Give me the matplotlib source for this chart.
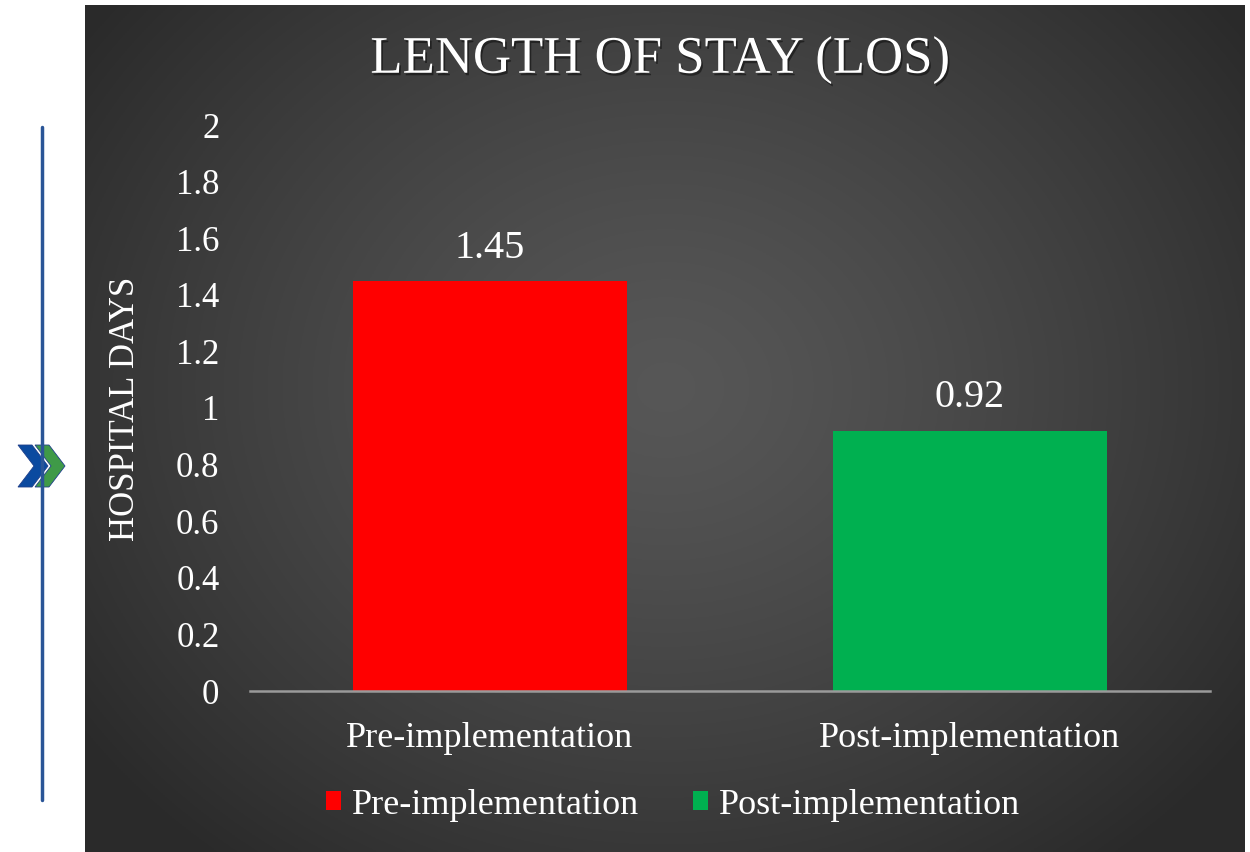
import numpy as np
import matplotlib
matplotlib.use("Agg")
import matplotlib.pyplot as plt
from matplotlib.patches import Polygon, Patch
import matplotlib.patheffects as pe

categories = ["Pre-implementation", "Post-implementation"]
values = [1.45, 0.92]
colors = ["#ff0000", "#00b050"]
yticks = [0, 0.2, 0.4, 0.6, 0.8, 1, 1.2, 1.4, 1.6, 1.8, 2]
ytick_labels = ["0", "0.2", "0.4", "0.6", "0.8", "1", "1.2", "1.4", "1.6", "1.8", "2"]
title = "LENGTH OF STAY (LOS)"
ylabel = "HOSPITAL DAYS"

W, H = 1250, 852
fig = plt.figure(figsize=(W / 100, H / 100), dpi=100)
fig.patch.set_facecolor("white")
serif = ["Liberation Serif", "DejaVu Serif"]

# background panel with radial gradient
bx0, bx1, by0, by1 = 85, 1245, 5, 852
bg = fig.add_axes([bx0 / W, 1 - by1 / H, (bx1 - bx0) / W, (by1 - by0) / H])
ny, nx = 400, 550
yy, xx = np.mgrid[0:ny, 0:nx]
cx, cy = nx * 0.5, ny * 0.45
r = np.sqrt(((xx - cx) / (nx * 0.62)) ** 2 + ((yy - cy) / (ny * 0.72)) ** 2)
r = np.clip(r, 0, 1)
val = 0.34 - (0.34 - 0.165) * r ** 1.3
img = np.dstack([val, val, val])
bg.imshow(img, aspect="auto", extent=[0, 1, 0, 1], origin="upper")
bg.set_axis_off()

# main axes
ax = fig.add_axes([250 / W, 1 - 691 / H, 960 / W, (691 - 125) / H])
ax.set_facecolor("none")
x = np.arange(len(categories))
ax.bar(x, values, width=0.57, color=colors, zorder=2)
ax.set_xlim(-0.5, len(categories) - 0.5)
ax.set_ylim(0, 2)
ax.set_yticks(yticks)
ax.set_yticklabels(ytick_labels)
ax.set_xticks(x)
ax.set_xticklabels(categories)
for s in ["top", "left", "right"]:
    ax.spines[s].set_visible(False)
ax.spines["bottom"].set_color("#9a9a9a")
ax.spines["bottom"].set_linewidth(1.8)
ax.tick_params(axis="both", length=0, colors="white")
ax.tick_params(axis="y", pad=22, labelsize=25)
ax.tick_params(axis="x", pad=22, labelsize=26)
for lab in ax.get_xticklabels() + ax.get_yticklabels():
    lab.set_fontfamily(serif)
    lab.set_color("white")

for xi, v in zip(x, values):
    ax.text(xi, v + 0.05, f"{v:.2f}", ha="center", va="bottom", color="white",
            fontsize=29, fontfamily=serif)

fig.text(125 / W, 1 - 409 / H, ylabel, rotation=90, ha="center", va="center",
         color="white", fontsize=25, fontfamily=serif)

fig.text(660 / W, 1 - 60 / H, title, ha="center", va="center", color="white",
         fontsize=38, fontfamily=serif,
         path_effects=[pe.withSimplePatchShadow(offset=(1.2, -1.8), shadow_rgbFace="black", alpha=0.45)])

handles = [Patch(facecolor=c, edgecolor="none") for c in colors]
fig.legend(handles, categories, loc="center", bbox_to_anchor=(673 / W, 1 - 805 / H),
           ncol=2, frameon=False, handlelength=0.42, handleheight=0.42, handletextpad=0.3,
           columnspacing=1.5, prop={"family": serif, "size": 26}, labelcolor="white")

# left decoration: vertical line and chevrons
fig.add_artist(plt.Line2D([42 / W, 42 / W], [1 - 127 / H, 1 - 800 / H], color="#2a5597",
                          lw=2.5, transform=fig.transFigure, solid_capstyle="round"))
def chev(x0, color):
    pts = [(x0, 445), (x0 + 14, 445), (x0 + 30, 466), (x0 + 14, 487), (x0, 487), (x0 + 16, 466)]
    return Polygon([(px / W, 1 - py / H) for px, py in pts], closed=True, facecolor=color,
                   edgecolor="#1f3f8a", lw=0.6, transform=fig.transFigure)
fig.add_artist(chev(18, "#0b4aa0"))
fig.add_artist(chev(35, "#3f9a48"))

fig.savefig("out.png", dpi=100, facecolor="white")
